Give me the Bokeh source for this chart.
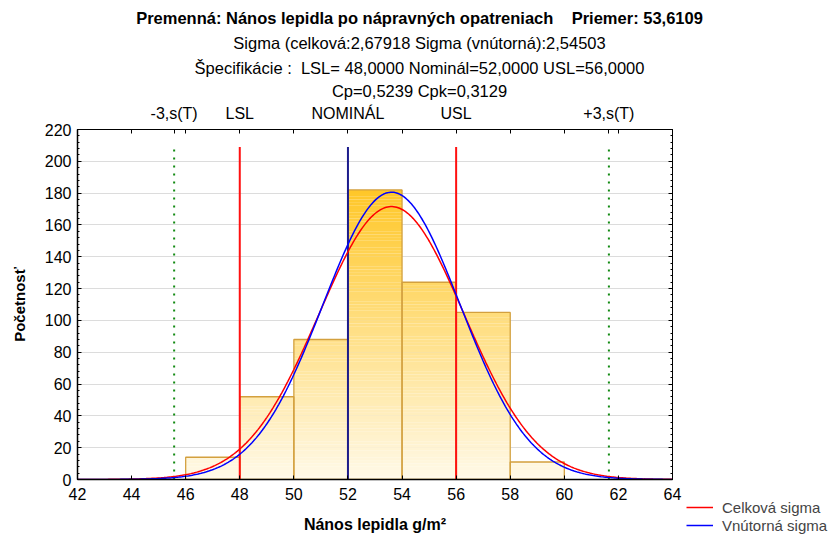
import numpy as np
from bokeh.plotting import figure
from bokeh.models import (LinearAxis, FixedTicker, SingleIntervalTicker, Title, Legend, LegendItem,
                          Range1d, CustomLabelingPolicy)
from bokeh.layouts import column, row
from bokeh.embed import file_html
from bokeh.resources import INLINE

# ---- data ----
bin_left = [46, 48, 50, 52, 54, 56, 58]
bin_width = 2
counts = [14, 52, 88, 182, 124, 105, 11]
mean = 53.6109
sigma_total = 2.67918
sigma_within = 2.54503
LSL, NOMINAL, USL = 48.0, 52.0, 56.0
cp, cpk = 0.5239, 0.3129
line_top = 209
x_ticks = list(range(42, 65, 2))
y_ticks = list(range(0, 221, 20))
legend_labels = ["Celková sigma", "Vnútorná sigma"]

FONT = "Liberation Sans"
NB = "\u00a0"
n_total = sum(counts)

def fmt(v, d):
    return ("%.*f" % (d, v)).replace(".", ",")

def no_frame_align(fig):
    if "frame_align" in fig.properties():
        fig.frame_align = False

# ---- header with the four title lines (centred over the whole width) ----
HEADER_H = 101
header = figure(width=838, height=HEADER_H, output_backend="svg", toolbar_location=None,
                x_axis_location=None, y_axis_location=None, min_border=0)
header.min_border_top = HEADER_H - 1
header.outline_line_color = None
header.xgrid.visible = False
header.ygrid.visible = False
header.title.visible = False
no_frame_align(header)
title_lines = [
    ("Premenná: Nános lepidla po nápravných opatreniach" + NB * 4 + "Priemer: " + fmt(mean, 4), "bold"),
    ("Sigma (celková:%s Sigma (vnútorná):%s" % (fmt(sigma_total, 5), fmt(sigma_within, 5)), "normal"),
    ("Špecifikácie :" + NB * 2 + "LSL= %s Nominál=%s USL=%s" % (fmt(LSL, 4), fmt(NOMINAL, 4), fmt(USL, 4)), "normal"),
    ("Cp=%s Cpk=%s" % (fmt(cp, 4), fmt(cpk, 4)), "normal"),
]
for i, (text, style) in reversed(list(enumerate(title_lines))):
    header.add_layout(Title(text=text, align="center", text_font=FONT, text_font_size="16.5px",
                            text_font_style=style, text_color="black",
                            standoff=1 if i == len(title_lines) - 1 else 5), "above")

# ---- main plot ----
PLOT_H = 535 - HEADER_H
p = figure(width=686, height=PLOT_H, output_backend="svg", toolbar_location=None,
           x_range=Range1d(42, 64), y_range=Range1d(0, 220),
           min_border_left=77, min_border_right=14, min_border_top=129 - HEADER_H, min_border_bottom=54)
p.title.visible = False
no_frame_align(p)
p.background_fill_color = "white"
p.border_fill_color = "white"
p.outline_line_color = "black"
p.outline_line_width = 1

# bars with vertical gradient (strips coloured by height)
c0 = np.array([255, 249, 232])
c1 = np.array([255, 199, 40])
ymax_col = max(counts)
step = 2.0
sl, sr, sb, st, sc = [], [], [], [], []
for xl, c in zip(bin_left, counts):
    y = 0.0
    while y < c:
        y2 = min(c, y + step)
        t = ((y + y2) / 2) / ymax_col
        col = c0 + (c1 - c0) * t
        sl.append(xl); sr.append(xl + bin_width); sb.append(y); st.append(y2 + 0.05 if y2 < c else y2)
        sc.append("#%02x%02x%02x" % tuple(int(round(v)) for v in col))
        y = y2
p.quad(left=sl, right=sr, bottom=sb, top=st, fill_color=sc, line_color=None)
p.quad(left=bin_left, right=[b + bin_width for b in bin_left], bottom=0, top=counts,
       fill_color=None, line_color="#d3a03e", line_width=1.3)

# grid
p.xgrid.visible = False
p.ygrid.ticker = FixedTicker(ticks=y_ticks)
p.ygrid.grid_line_color = "#dcdcdc"
p.ygrid.grid_line_width = 1.2

# spec lines
m3 = mean - 3 * sigma_total
p3 = mean + 3 * sigma_total
p.segment(x0=[m3, p3], y0=[0, 0], x1=[m3, p3], y1=[line_top, line_top],
          line_color="#128a12", line_width=2, line_dash="2 6")
p.segment(x0=[LSL, USL], y0=[0, 0], x1=[LSL, USL], y1=[line_top, line_top],
          line_color="#ff1010", line_width=2)
p.segment(x0=[NOMINAL], y0=[0], x1=[NOMINAL], y1=[line_top],
          line_color="#1c1c8c", line_width=2)

# normal curves
xs = np.linspace(42, 64, 400)
def normal_counts(s):
    return n_total * bin_width * np.exp(-0.5 * ((xs - mean) / s) ** 2) / (s * np.sqrt(2 * np.pi))
RED, BLUE = "#ff0000", "#0000ff"
y_total = normal_counts(sigma_total)
y_within = normal_counts(sigma_within)
p.line(xs, y_total, line_color=RED, line_width=1.5)
p.line(xs, y_within, line_color=BLUE, line_width=1.5)

# axes
for ax in (p.xaxis[0], p.yaxis[0]):
    ax.axis_line_color = "black"
    ax.axis_line_width = 1.5
    ax.major_tick_in = 4
    ax.major_tick_out = 0
    ax.minor_tick_in = 2
    ax.minor_tick_out = 0
    ax.major_label_text_font = FONT
    ax.major_label_text_font_size = "16px"
    ax.major_label_text_color = "black"
    ax.axis_label_text_font = FONT
    ax.axis_label_text_font_style = "bold"
    ax.axis_label_text_color = "black"

p.xaxis[0].ticker = FixedTicker(ticks=x_ticks, minor_ticks=[])
p.xaxis[0].major_label_standoff = 8
p.xaxis[0].axis_label = "Nános lepidla g/m²"
p.xaxis[0].axis_label_text_font_size = "16px"
p.xaxis[0].axis_label_standoff = 13

p.yaxis[0].ticker = SingleIntervalTicker(interval=20, num_minor_ticks=5)
p.yaxis[0].major_label_standoff = 6
p.yaxis[0].axis_label = "Početnosť"
p.yaxis[0].axis_label_text_font_size = "15px"
p.yaxis[0].axis_label_standoff = 14

no_labels = CustomLabelingPolicy(code="""
for (const i of indices) indices.unset(i)
return indices
""")
right_ax = LinearAxis(ticker=SingleIntervalTicker(interval=20, num_minor_ticks=5),
                      major_tick_in=4, major_tick_out=0, minor_tick_in=2, minor_tick_out=0,
                      major_label_overrides={v: "" for v in y_ticks},
                      major_label_policy=no_labels, major_label_standoff=0,
                      axis_line_color="black")
p.add_layout(right_ax, "right")

top_vals = [round(m3, 3), LSL, NOMINAL, USL, round(p3, 3)]
top_names = ["-3,s(T)", "LSL", "NOMINÁL", "USL", "+3,s(T)"]
top_ticks = sorted(set(x_ticks[1:-1] + top_vals))
keep = [top_ticks.index(v) for v in top_vals]
overrides = {v: n for v, n in zip(top_vals, top_names)}
keep_policy = CustomLabelingPolicy(args=dict(keep=keep), code="""
for (const i of indices) { if (!keep.includes(i)) indices.unset(i) }
return indices
""")
top_ax = LinearAxis(ticker=FixedTicker(ticks=top_ticks, minor_ticks=[]),
                    major_label_overrides=overrides, major_label_policy=keep_policy,
                    major_tick_in=4, major_tick_out=0, axis_line_color="black",
                    major_label_standoff=8, major_label_text_font=FONT,
                    major_label_text_font_size="16px", major_label_text_color="black")
p.add_layout(top_ax, "above")

# ---- legend column at the right, legend at its bottom ----
lg = figure(width=838 - 686, height=PLOT_H, output_backend="svg", toolbar_location=None,
            x_axis_location=None, y_axis_location=None, min_border=0,
            x_range=Range1d(0, 1), y_range=Range1d(0, 1))
lg.title.visible = False
no_frame_align(lg)
lg.outline_line_color = None
lg.xgrid.visible = False
lg.ygrid.visible = False
# same curves (outside this panel's ranges) only to feed the legend glyphs
lr = lg.line(xs, y_total, line_color=RED, line_width=1.5)
lb = lg.line(xs, y_within, line_color=BLUE, line_width=1.5)
legend = Legend(items=[LegendItem(label=legend_labels[0], renderers=[lr]),
                       LegendItem(label=legend_labels[1], renderers=[lb])],
                location=(0, 1), orientation="vertical",
                glyph_width=27, label_standoff=9, spacing=0, padding=0, margin=0,
                label_text_font=FONT, label_text_font_size="15px", label_height=18, glyph_height=18,
                border_line_color=None, background_fill_alpha=0)
lg.add_layout(legend)

layout = column(header, row(p, lg, spacing=0), spacing=0)
open("out.html", "w").write(file_html(layout, INLINE))
